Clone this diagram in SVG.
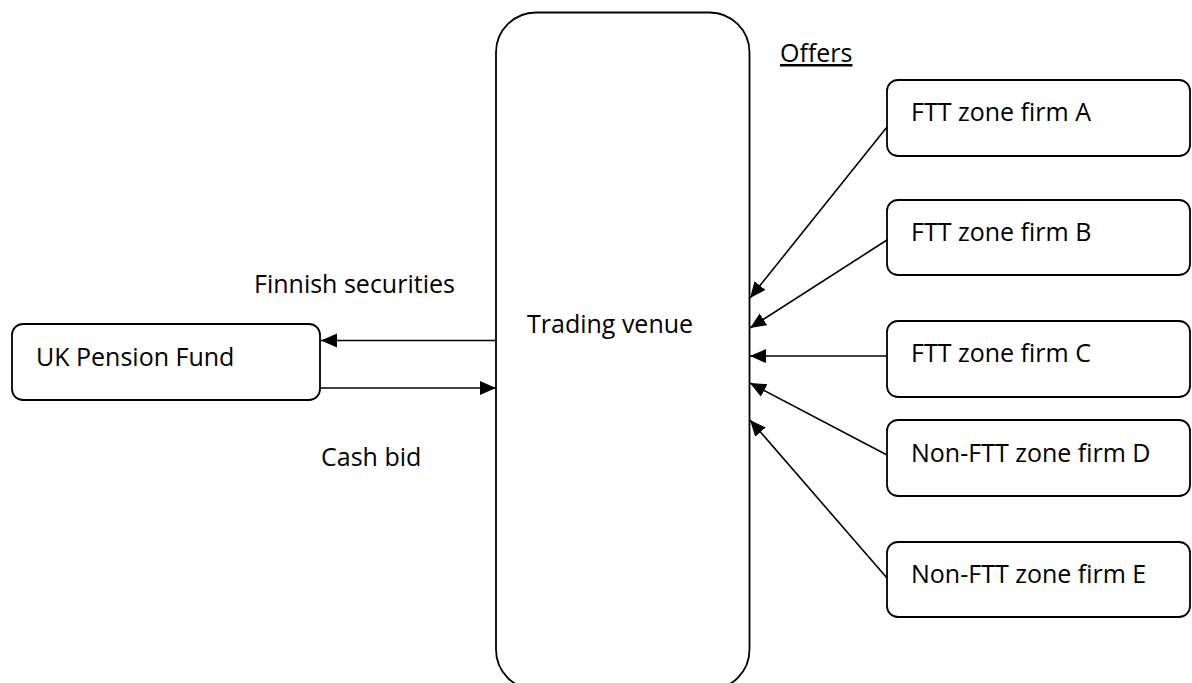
<svg xmlns="http://www.w3.org/2000/svg" width="1192" height="683" viewBox="0 0 1192 683">
<style>
.box{fill:#fff;stroke:#000;stroke-width:1.8}
.lbl{font-family:"Open Sans","Liberation Sans",sans-serif;font-size:25px;fill:#000}
.conn{stroke:#000;stroke-width:1.6;fill:none;marker-end:url(#ah)}
</style>
<defs>
<marker id="ah" markerUnits="userSpaceOnUse" markerWidth="17" markerHeight="17" viewBox="0 0 17 17" refX="16" refY="8.5" orient="auto">
<path d="M0,1.5 L16,8.5 L0,15.5 Z" fill="#000"/>
</marker>
</defs>
<rect width="1192" height="683" fill="#fff"/>
<g id="venue">
<rect class="box" x="496" y="12.5" width="253.5" height="677" rx="40" ry="40"/>
<text class="lbl" x="527" y="333">Trading venue</text>
</g>
<g id="pension">
<rect class="box" x="12" y="324" width="308" height="76" rx="11" ry="11"/>
<text class="lbl" x="36" y="366">UK Pension Fund</text>
</g>
<g id="firmA">
<rect class="box" x="887" y="80" width="303" height="76" rx="11" ry="11"/>
<text class="lbl" x="911" y="121">FTT zone firm A</text>
</g>
<g id="firmB">
<rect class="box" x="887" y="200" width="303" height="75" rx="11" ry="11"/>
<text class="lbl" x="911" y="241">FTT zone firm B</text>
</g>
<g id="firmC">
<rect class="box" x="887" y="321" width="303" height="76" rx="11" ry="11"/>
<text class="lbl" x="911" y="362">FTT zone firm C</text>
</g>
<g id="firmD">
<rect class="box" x="887" y="420" width="303" height="76" rx="11" ry="11"/>
<text class="lbl" x="911" y="462">Non-FTT zone firm D</text>
</g>
<g id="firmE">
<rect class="box" x="887" y="542" width="303" height="75" rx="11" ry="11"/>
<text class="lbl" x="911" y="583">Non-FTT zone firm E</text>
</g>
<g id="labels">
<text class="lbl" x="254" y="293">Finnish securities</text>
<text class="lbl" x="321" y="466">Cash bid</text>
<text class="lbl" x="780" y="62" text-decoration="underline">Offers</text>
</g>
<g id="connectors">
<line class="conn" x1="496" y1="340.5" x2="321" y2="340.5"/>
<line class="conn" x1="320" y1="388" x2="496" y2="388"/>
<line class="conn" x1="887" y1="127" x2="750" y2="298"/>
<line class="conn" x1="887" y1="240" x2="750" y2="328"/>
<line class="conn" x1="887" y1="356" x2="750" y2="356"/>
<line class="conn" x1="887" y1="455" x2="750" y2="383"/>
<line class="conn" x1="887" y1="578" x2="750" y2="420"/>
</g>
</svg>
